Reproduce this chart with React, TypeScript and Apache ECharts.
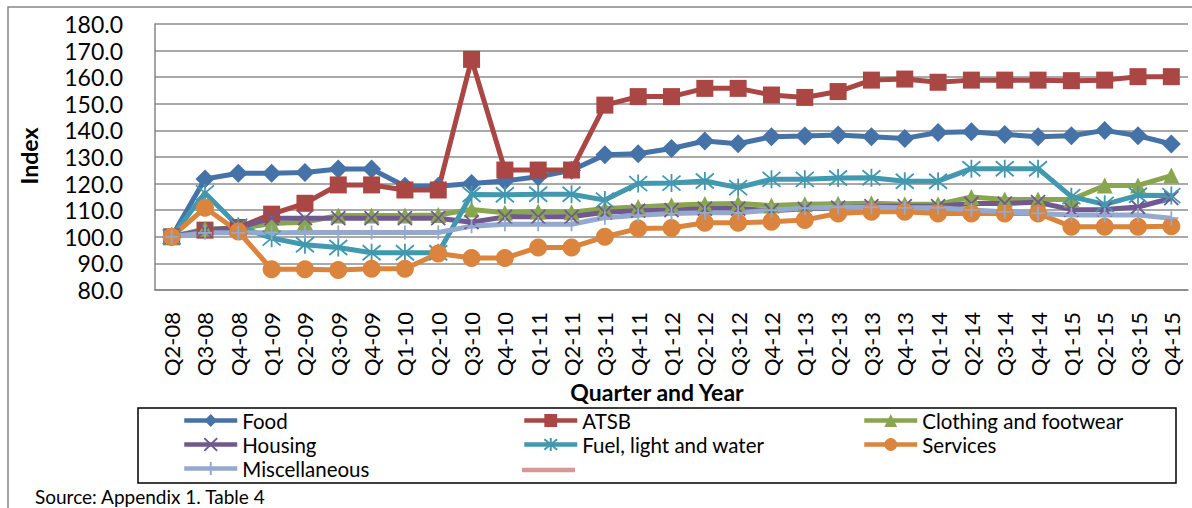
import React, { useEffect, useRef } from "react";
import * as echarts from "echarts";

const categories = [
  "Q2-08", "Q3-08", "Q4-08",
  "Q1-09", "Q2-09", "Q3-09", "Q4-09",
  "Q1-10", "Q2-10", "Q3-10", "Q4-10",
  "Q1-11", "Q2-11", "Q3-11", "Q4-11",
  "Q1-12", "Q2-12", "Q3-12", "Q4-12",
  "Q1-13", "Q2-13", "Q3-13", "Q4-13",
  "Q1-14", "Q2-14", "Q3-14", "Q4-14",
  "Q1-15", "Q2-15", "Q3-15", "Q4-15",
];

const food = [100, 121.7, 123.9, 123.9, 124.2, 125.5, 125.5, 119, 119, 120, 121, 122.6, 125, 130.8, 131.2, 133.2, 136, 135, 137.6, 137.9, 138.3, 137.6, 137, 139.2, 139.5, 138.5, 137.6, 138, 140, 138, 134.9];
const atsb = [100, 102.5, 103.5, 108.5, 112.6, 119.5, 119.5, 117.6, 117.6, 166.7, 125.1, 125.1, 125.1, 149.5, 152.7, 152.7, 155.8, 155.8, 153.3, 152.4, 154.6, 158.9, 159.3, 158.1, 158.9, 158.9, 158.9, 158.7, 158.9, 160.2, 160.2];
const clothing = [100, 103, 103, 105, 105.5, 108, 108, 108, 108.2, 110.3, 109, 109.5, 109.2, 110.6, 111.2, 111.9, 112.3, 112.5, 111.8, 112.2, 112.4, 112.6, 112.2, 112.2, 115, 114, 114, 114, 119.3, 119.3, 123];
const housing = [100, 102.5, 103.5, 107, 107, 107, 107, 107, 107, 105.5, 107.5, 107.5, 107.5, 109.2, 109.8, 110, 110.6, 110.6, 109.8, 110.5, 111, 111.5, 111.5, 111.5, 112.5, 112.5, 113, 110.2, 110.3, 111.2, 114.5];
const fuel = [100, 116.5, 104, 99.5, 97, 96, 94, 94, 94, 115.9, 115.8, 116, 116, 113.8, 120, 120.2, 121, 118.5, 121.6, 121.6, 122.1, 122.2, 120.9, 120.9, 125.6, 125.6, 125.6, 115.1, 112.2, 115.6, 115.5];
const services = [100, 110.9, 102, 87.8, 87.8, 87.5, 88, 88, 93.7, 92, 92, 96, 96, 100, 103.1, 103.3, 105.3, 105.3, 105.7, 106.3, 108.8, 109.4, 109.4, 108.8, 108.8, 108.8, 108.8, 103.8, 103.8, 103.8, 104];
const misc = [100, 101.5, 101.5, 101.5, 101.6, 101.6, 101.6, 101.6, 101.6, 104, 104.7, 104.7, 104.7, 107.2, 108.1, 108.8, 109, 109, 110, 110.8, 111.1, 111.1, 110.9, 110.9, 110.1, 109.4, 108.8, 108.2, 108.2, 108.2, 107];

const yMin = 80;
const yMax = 180;
const yStep = 10;

const FONT = "Lato, 'Noto Sans', sans-serif";

const X_PATH = "path://M0,0L10,10M10,0L0,10";
const STAR_PATH = "path://M0,0L10,10M10,0L0,10M5,-1L5,11";
const PLUS_PATH = "path://M5,0L5,10M0,5L10,5";

const seriesDefs = [
  { name: "Food", data: food, color: "#4572A7", symbol: "diamond", size: 19, stroke: false },
  { name: "ATSB", data: atsb, color: "#AA4643", symbol: "rect", size: 17, stroke: false },
  { name: "Clothing and footwear", data: clothing, color: "#89A54E", symbol: "triangle", size: 16, stroke: false },
  { name: "Housing", data: housing, color: "#71588F", symbol: X_PATH, size: 14, stroke: true },
  { name: "Fuel, light and water", data: fuel, color: "#4198AF", symbol: STAR_PATH, size: 18, stroke: true },
  { name: "Services", data: services, color: "#DB843D", symbol: "circle", size: 18, stroke: false },
  { name: "Miscellaneous", data: misc, color: "#93A9CF", symbol: PLUS_PATH, size: 14, stroke: true },
];

const legendPos = [
  { left: 182, cy: 422 },
  { left: 522, cy: 422 },
  { left: 862, cy: 422 },
  { left: 182, cy: 446 },
  { left: 522, cy: 446 },
  { left: 862, cy: 446 },
  { left: 182, cy: 470 },
];

export default function App() {
  const ref = useRef<HTMLDivElement>(null);

  useEffect(() => {
    if (!ref.current) return;
    const chart = echarts.init(ref.current, undefined, { renderer: "svg" });

    const series = seriesDefs.map((s) => ({
      name: s.name,
      type: "line",
      data: s.data,
      symbol: s.symbol,
      symbolSize: s.size,
      showSymbol: true,
      lineStyle: { color: s.color, width: 5 },
      itemStyle: s.stroke
        ? { color: s.color, borderColor: s.color, borderWidth: 1.8 }
        : { color: s.color, borderWidth: 0 },
      emphasis: { disabled: true },
    }));

    const legends = seriesDefs.map((s, i) => ({
      show: true,
      data: [s.name],
      left: legendPos[i].left,
      top: legendPos[i].cy - 12,
      orient: "horizontal",
      padding: 0,
      itemWidth: 53,
      itemHeight: 16,
      itemGap: 0,
      selectedMode: false,
      lineStyle: { width: 4.5 },
      textStyle: { fontFamily: FONT, fontSize: 20.5, color: "#000" },
    }));

    chart.setOption({
      animation: false,
      backgroundColor: "#fff",
      grid: { left: 155, top: 24, width: 1033, height: 266, containLabel: false },
      legend: legends,
      xAxis: {
        type: "category",
        data: categories,
        boundaryGap: true,
        axisLine: { show: true, lineStyle: { color: "#868686", width: 1.5 } },
        axisTick: { show: false },
        axisLabel: {
          interval: 0,
          rotate: 90,
          margin: 22,
          fontFamily: FONT,
          fontSize: 22,
          color: "#000",
        },
        splitLine: { show: false },
      },
      yAxis: {
        type: "value",
        min: yMin,
        max: yMax,
        interval: yStep,
        axisLine: { show: true, lineStyle: { color: "#868686", width: 1.5 } },
        axisTick: { show: false },
        axisLabel: {
          margin: 32,
          fontFamily: FONT,
          fontSize: 23,
          color: "#000",
          formatter: (v: number) => v.toFixed(1),
        },
        splitLine: { show: true, lineStyle: { color: "#8c8c8c", width: 1.5 } },
      },
      series,
      graphic: [
        {
          type: "rect",
          shape: { x: 8, y: 7, width: 1220, height: 540 },
          style: { fill: "none", stroke: "#868686", lineWidth: 1.5 },
          silent: true,
          z: -1,
        },
        {
          type: "rect",
          shape: { x: 138, y: 408, width: 1038, height: 75 },
          style: { fill: "none", stroke: "#000", lineWidth: 1.5 },
          silent: true,
        },
        {
          type: "line",
          shape: { x1: 522, y1: 470, x2: 575, y2: 470 },
          style: { stroke: "#D99694", lineWidth: 4.5 },
          silent: true,
        },
        {
          type: "text",
          x: 29,
          y: 156,
          rotation: Math.PI / 2,
          style: {
            text: "Index",
            fontFamily: FONT,
            fontSize: 23,
            fontWeight: "bold",
            fill: "#000",
            align: "center",
            verticalAlign: "middle",
          },
          silent: true,
        },
        {
          type: "text",
          x: 657,
          y: 392,
          style: {
            text: "Quarter and Year",
            fontFamily: FONT,
            fontSize: 23,
            fontWeight: "bold",
            fill: "#000",
            align: "center",
            verticalAlign: "middle",
          },
          silent: true,
        },
        {
          type: "text",
          x: 35,
          y: 496,
          style: {
            text: "Source: Appendix 1. Table 4",
            fontFamily: FONT,
            fontSize: 19,
            fill: "#000",
            align: "left",
            verticalAlign: "middle",
          },
          silent: true,
        },
      ],
    });

    return () => chart.dispose();
  }, []);

  return (
    <div
      ref={ref}
      style={{ position: "absolute", left: 0, top: 0, width: 1192, height: 508 }}
    />
  );
}
